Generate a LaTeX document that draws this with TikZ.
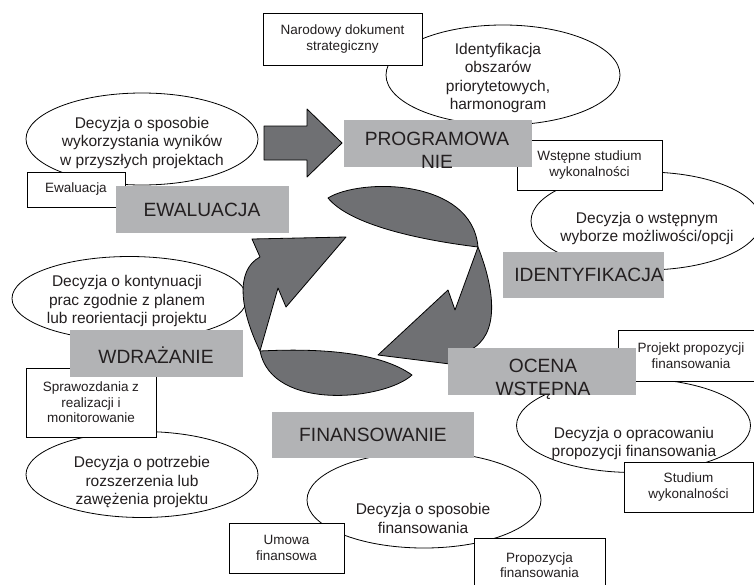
\documentclass[tikz,border=0pt]{standalone}
\usepackage{fontspec}
\setmainfont{Liberation Sans}
\usetikzlibrary{shapes.geometric}
\definecolor{dk}{HTML}{6F7073}
\definecolor{lg}{HTML}{B2B3B5}
\definecolor{tx}{HTML}{231F20}
\begin{document}
\begin{tikzpicture}[x=1pt,y=-1pt,
  ell/.style={ellipse,draw=black,fill=white,line width=0.8pt,inner sep=0pt},
  wbox/.style={rectangle,draw=black,fill=white,line width=0.8pt,inner sep=0pt,align=center,text=tx,font=\fontsize{13.5}{15.5}\selectfont},
  gbox/.style={rectangle,fill=lg,inner sep=0pt},
  big/.style={align=center,text=tx,font=\fontsize{19.2}{23}\selectfont,inner sep=0pt},
  etx/.style={align=center,text=tx,font=\fontsize{15.5}{18.5}\selectfont,inner sep=0pt},
  shp/.style={fill=dk,draw=black,line width=0.8pt,line join=round}]
\useasboundingbox (0,0) rectangle (754,584);
\clip (0,0) rectangle (754,584);
\fill[white] (0,0) rectangle (754,584);

% ellipses
\node[ell,minimum width=234pt,minimum height=100pt] (e1) at (503,75) {};
\node[ell,minimum width=232pt,minimum height=92pt] (e2) at (142,139) {};
\node[ell,minimum width=230pt,minimum height=98pt] (e3) at (646,221) {};
\node[ell,minimum width=235pt,minimum height=84pt] (e4) at (129.5,298.5) {};
\node[ell,minimum width=232pt,minimum height=86pt] (e5) at (142,474.5) {};
\node[ell,minimum width=234pt,minimum height=96pt] (e6) at (424,500) {};
\node[ell,minimum width=234pt,minimum height=94pt] (e7) at (633.5,425.5) {};

\node[etx] (t1) at (498,78) {Identyfikacja\\obszarów\\priorytetowych,\\harmonogram};
\node[etx] (t2) at (142,142.5) {Decyzja o sposobie\\wykorzystania wyników\\w przyszłych projektach};
\node[etx] (t3) at (647,228.5) {Decyzja o wstępnym\\wyborze możliwości/opcji};
\node[etx] (t4) at (127,301) {Decyzja o kontynuacji\\prac zgodnie z planem\\lub reorientacji projektu};
\node[etx] (t5) at (142,482) {Decyzja o potrzebie\\rozszerzenia lub\\zawężenia projektu};
\node[etx] (t6) at (423,518.5) {Decyzja o sposobie\\finansowania};
\node[etx] (t7) at (634,443.5) {Decyzja o opracowaniu\\propozycji finansowania};

% white boxes
\node[wbox,minimum width=159pt,minimum height=52pt] (b1) at (342.5,39) {Narodowy dokument\\strategiczny};
\node[wbox,minimum width=98pt,minimum height=35pt] (b2) at (76,189.5) {Ewaluacja};
\node[wbox,minimum width=145pt,minimum height=50pt] (b3) at (589.5,165) {Wstępne studium\\wykonalności};
\node[wbox,minimum width=130pt,minimum height=69pt] (b4) at (91,402.5) {Sprawozdania z\\realizacji i\\monitorowanie};
\node[wbox,minimum width=115pt,minimum height=50pt] (b5) at (286.5,548) {Umowa\\finansowa};
\node[wbox,minimum width=131pt,minimum height=54pt] (b6) at (539.5,565) {Propozycja\\finansowania};
\node[wbox,minimum width=146pt,minimum height=51pt] (b7) at (691,355.5) {Projekt propozycji\\finansowania};
\node[wbox,minimum width=129pt,minimum height=50pt] (b8) at (688.5,487) {Studium\\wykonalności};

% cycle shapes
\draw[shp] (328,198) .. controls (360,178) and (472,178) .. (478,247) .. controls (420,240) and (350,225) .. (328,198) -- cycle;
\draw[shp] (478,247) .. controls (495,290) and (500,335) .. (470,350) .. controls (462,356) and (455,360) .. (450,364) -- (378,355) -- (448,290) -- (455,310) -- cycle;
\draw[shp] (260,351) .. controls (320,348) and (380,352) .. (412,375) .. controls (385,400) and (272,412) .. (260,351) -- cycle;
\draw[shp] (260,351) .. controls (240,310) and (235,270) .. (260,257) -- (252,239) -- (346,237) -- (286,307) -- (278,288) -- cycle;

% big arrow
\draw[shp] (264,126) -- (307,126) -- (307,109) -- (342,143) -- (307,177) -- (307,160) -- (264,160) -- cycle;

% grey phase boxes
\node[gbox,minimum width=188pt,minimum height=47pt] (g1) at (438,143.5) {};
\node[big] (l1) at (437,150.5) {PROGRAMOWA\\NIE};
\node[gbox,minimum width=173pt,minimum height=47pt] (g2) at (202.5,209.5) {};
\node[big] (l2) at (202,210) {EWALUACJA};
\node[gbox,minimum width=161pt,minimum height=46pt] (g3) at (583.5,275) {};
\node[big] (l3) at (589,275) {IDENTYFIKACJA};
\node[gbox,minimum width=173pt,minimum height=47pt] (g4) at (156.5,353.5) {};
\node[big] (l4) at (156,355) {WDRAŻANIE};
\node[gbox,minimum width=202pt,minimum height=46pt] (g5) at (373,435) {};
\node[big] (l5) at (373,435) {FINANSOWANIE};
\node[gbox,minimum width=188pt,minimum height=47pt] (g6) at (542,371.5) {};
\node[big] (l6) at (543,379.5) {OCENA\\WSTĘPNA};
\end{tikzpicture}
\end{document}
